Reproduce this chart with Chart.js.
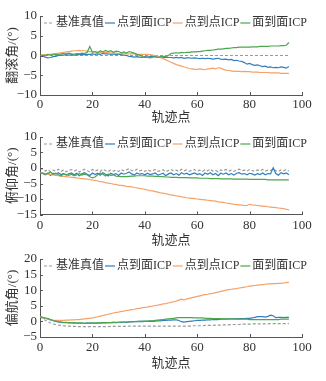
<!DOCTYPE html>
<html>
<head>
<meta charset="utf-8">
<script src="https://cdn.jsdelivr.net/npm/chart.js@4.4.0/dist/chart.umd.min.js"></script>
<style>
  html, body { margin: 0; padding: 0; background: #fff; }
  #wrap { position: relative; width: 326px; height: 381px; }
  .panel { position: absolute; left: 0; width: 326px; }
</style>
</head>
<body>
<div id="wrap">
  <div class="panel" style="top:0;height:125px"><canvas id="roll"></canvas></div>
  <div class="panel" style="top:121px;height:128px"><canvas id="pitch"></canvas></div>
  <div class="panel" style="top:243px;height:138px"><canvas id="yaw"></canvas></div>
</div>
<script>
'use strict'

// trajectory points 0..95
let points = [];
for (let i = 0; i < 96; i++) points.push(i);

let seriesNames = ['基准真值', '点到面ICP', '点到点ICP', '面到面ICP'];
let xTitle = '轨迹点';
let xTicks = [0, 20, 40, 60, 80, 100];

// roll
let rollTicks = [-10, -5, 0, 5, 10];
let rollTruth = [
  0,0,0,0,0,0,0,0,0,0, 0,0,0,0,0,0,0,0,0,0, 0,0,0,0,0,0,0,0,0,0,
  0,0,0,0,0,0,0,0,0,0, 0,0,0,0,0,0,0,0,0,0, 0,0,0,0,0,0,0,0,0,0,
  0,0,0,0,0,0,0,0,0,0, 0,0,0,0,0,0,0,0,0,0, 0,0,0,0,0,0,0,0,0,0,
  0,0,0,0,0,0];
let rollP2Plane = [
  0, -0.2, -0.4, -0.6, -0.5, -0.3, -0.2, 0, 0.1, 0.1,
  0.2, 0.1, 0.2, 0.1, 0.2, 0.2, 0.3, 0.2, 0.3, 0.3,
  0.4, 0.3, 0.4, 0.3, 0.5, 0.4, 0.4, 0.3, 0.4, 0.3,
  0.3, 0.2, 0.1, 0, -0.2, -0.3, -0.4, -0.3, -0.4, -0.5,
  -0.3, -0.4, -0.3, -0.2, -0.3, -0.4, -0.3, -0.5, -0.4, -0.5,
  -0.5, -0.6, -0.5, -0.6, -0.5, -0.7, -0.6, -0.6, -0.7, -0.6,
  -0.7, -0.8, -0.7, -0.8, -0.7, -0.8, -0.9, -0.8, -0.7, -0.9,
  -1.0, -0.9, -1.1, -1.0, -1.3, -1.2, -1.4, -1.5, -1.8, -2.2,
  -2.0, -2.3, -2.5, -2.4, -2.6, -2.8, -2.7, -3.0, -2.9, -3.1,
  -3.0, -3.1, -2.9, -3.0, -3.2, -2.8];
let rollP2Point = [
  0, 0.1, 0.2, 0.3, 0.3, 0.4, 0.5, 0.6, 0.7, 0.8,
  0.9, 1.0, 1.1, 1.2, 1.2, 1.3, 1.2, 1.2, 1.1, 1.0,
  1.0, 0.9, 0.9, 0.8, 0.8, 0.8, 0.7, 0.7, 0.6, 0.6,
  0.5, 0.5, 0.5, 0.4, 0.4, 0.4, 0.4, 0.3, 0.3, 0.3,
  0.3, 0.3, 0.2, 0.1, 0, -0.2, -0.5, -0.8, -1.1, -1.4,
  -1.7, -2.0, -2.3, -2.5, -2.7, -2.9, -3.1, -3.3, -3.4, -3.5,
  -3.5, -3.4, -3.5, -3.6, -3.4, -3.3, -3.2, -3.4, -3.1, -3.2,
  -3.5, -3.7, -3.8, -3.9, -4.0, -4.0, -4.0, -4.1, -4.0, -4.1,
  -4.1, -4.2, -4.2, -4.2, -4.3, -4.3, -4.3, -4.3, -4.4, -4.4,
  -4.4, -4.4, -4.5, -4.5, -4.5, -4.5];
let rollPlane2Plane = [
  0, 0.1, 0, 0.2, 0.1, 0.2, 0.3, 0.2, 0.4, 0.5,
  0.4, 0.6, 0.4, 0.3, 0.5, 0.4, 0.6, 0.5, 0.8, 2.3,
  0.8, 1.0, 0.6, 1.2, 0.9, 1.3, 1.0, 1.2, 0.8, 1.1,
  1.0, 0.7, 0.9, 0.6, 1.0, 0.8, 0.6, 0.3, 0.1, -0.2,
  -0.5, -0.4, -0.6, -0.4, -0.3, -0.5, -0.4, -0.2, -0.3, 0,
  0.5, 0.6, 0.7, 0.6, 0.8, 0.7, 0.8, 0.8, 0.9, 0.9,
  1.0, 1.0, 1.1, 1.2, 1.3, 1.3, 1.4, 1.5, 1.6, 1.6,
  1.7, 1.8, 1.8, 1.9, 2.0, 2.0, 2.1, 2.1, 2.1, 2.1,
  2.1, 2.2, 2.2, 2.2, 2.3, 2.3, 2.3, 2.3, 2.4, 2.4,
  2.4, 2.4, 2.5, 2.5, 2.6, 3.3];

// pitch
let pitchTicks = [-15, -10, -5, 0, 5, 10];
let pitchTruth = [
  0, -0.5, -1.0, -0.5, -1.2, -0.7, -1.0, -0.4, -1.1, -0.6,
  -1.2, -0.8, -0.5, -1.0, -0.6, -1.3, -0.8, -0.4, -0.9, -1.2,
  -0.5, -1.0, -0.6, -1.1, -0.4, -0.9, -1.2, -0.6, -1.0, -0.7,
  -1.1, -0.5, -0.9, -0.6, -0.2, -0.8, -1.0, -0.4, -0.9, -0.7,
  -1.1, -0.6, -1.0, -0.8, -0.5, -1.1, -0.9, -0.6, -1.2, -0.8,
  -0.5, -1.0, -0.7, -1.1, -0.4, -0.9, -0.6, -1.0, -0.8, -0.5,
  -1.0, -0.7, -1.1, -0.5, -0.9, -0.4, -1.0, -0.8, -1.2, -0.6,
  -0.9, -0.5, -1.0, -0.7, -1.1, -0.6, -0.4, -0.9, -0.7, -1.0,
  -0.5, -0.8, -1.1, -0.6, -0.9, -0.5, -1.0, -0.7, -0.8, -0.3,
  -0.9, -1.1, -0.6, -0.9, -0.5, -1.0];
let pitchP2Plane = [
  -1.5, -1.8, -2.2, -1.6, -2.4, -1.7, -2.0, -1.5, -2.1, -1.8,
  -2.3, -1.9, -1.6, -2.2, -1.7, -2.5, -1.9, -1.5, -2.0, -2.4,
  -1.6, -2.1, -1.7, -2.3, -1.5, -2.0, -2.6, -1.7, -2.1, -1.8,
  -2.4, -1.6, -2.0, -1.7, -1.3, -1.9, -2.3, -1.6, -2.0, -1.8,
  -2.2, -1.7, -2.1, -1.9, -1.6, -2.3, -2.0, -1.7, -2.5, -1.9,
  -1.6, -2.2, -1.8, -2.3, -1.5, -2.0, -1.7, -2.2, -1.9, -1.6,
  -2.1, -1.8, -2.4, -1.6, -2.0, -1.5, -2.2, -1.8, -2.5, -1.7,
  -2.0, -1.6, -2.2, -1.8, -2.3, -1.7, -1.5, -2.0, -1.8, -2.2,
  -1.7, -1.9, -2.3, -1.8, -2.1, -1.6, -2.2, -1.8, -1.9, 0.1,
  -1.8, -2.3, -1.5, -1.9, -1.6, -2.2];
let pitchP2Point = [
  -1.5, -1.6, -1.8, -2.0, -2.1, -2.2, -2.4, -2.5, -2.6, -2.7,
  -2.8, -2.9, -3.0, -3.1, -3.2, -3.3, -3.4, -3.5, -3.6, -3.7,
  -3.9, -4.0, -4.2, -4.4, -4.5, -4.7, -4.9, -5.0, -5.2, -5.3,
  -5.5, -5.6, -5.7, -5.9, -6.0, -6.1, -6.3, -6.4, -6.6, -6.7,
  -6.9, -7.1, -7.3, -7.4, -7.6, -7.8, -8.0, -8.1, -8.3, -8.5,
  -8.7, -8.8, -9.0, -9.1, -9.3, -9.4, -9.6, -9.7, -9.8, -9.9,
  -10.0, -10.1, -10.2, -10.3, -10.4, -10.5, -10.6, -10.7, -10.9, -11.0,
  -11.1, -11.3, -11.4, -11.6, -11.7, -11.8, -11.9, -12.0, -12.1, -12.1,
  -11.7, -11.9, -12.0, -12.1, -12.2, -12.3, -12.4, -12.5, -12.6, -12.7,
  -12.8, -12.9, -13.0, -13.1, -13.3, -13.5];
let pitchPlane2Plane = [
  -1.5, -1.7, -2.0, -1.8, -1.3, -2.0, -1.7, -2.2, -2.6, -1.9,
  -2.1, -2.4, -2.0, -2.5, -2.2, -1.8, -2.3, -2.0, -2.2, -2.8,
  -3.2, -2.9, -2.2, -1.6, -2.0, -2.6, -1.9, -2.4, -2.2, -2.6,
  -2.7, -2.8, -2.8, -2.8, -2.7, -2.6, -2.6, -2.5, -2.5, -2.5,
  -2.5, -2.6, -2.6, -2.6, -2.7, -2.7, -2.8, -2.8, -2.9, -2.9,
  -3.0, -3.0, -3.0, -3.1, -3.1, -3.1, -3.1, -3.2, -3.2, -3.2,
  -3.2, -3.3, -3.3, -3.3, -3.3, -3.4, -3.4, -3.4, -3.4, -3.5,
  -3.5, -3.5, -3.5, -3.5, -3.6, -3.6, -3.6, -3.6, -3.6, -3.6,
  -3.7, -3.7, -3.7, -3.7, -3.7, -3.7, -3.7, -3.8, -3.8, -3.8,
  -3.8, -3.8, -3.8, -3.8, -3.8, -3.8];

// yaw
let yawTicks = [-5, 0, 5, 10, 15, 20];
let yawTruth = [
  1.5, 1.0, 0.4, -0.1, -0.5, -0.8, -1.0, -1.2, -1.3, -1.4,
  -1.5, -1.5, -1.6, -1.6, -1.6, -1.7, -1.7, -1.7, -1.7, -1.7,
  -1.7, -1.7, -1.7, -1.7, -1.7, -1.7, -1.7, -1.6, -1.6, -1.6,
  -1.6, -1.6, -1.6, -1.6, -1.5, -1.5, -1.5, -1.5, -1.5, -1.5,
  -1.5, -1.5, -1.5, -1.5, -1.5, -1.5, -1.5, -1.5, -1.5, -1.5,
  -1.5, -1.5, -1.5, -1.5, -1.5, -1.5, -1.5, -1.5, -1.5, -1.4,
  -1.4, -1.4, -1.4, -1.3, -1.3, -1.3, -1.3, -1.2, -1.2, -1.2,
  -1.1, -1.1, -1.1, -1.0, -1.0, -1.0, -1.0, -0.9, -0.9, -0.9,
  -0.9, -0.8, -0.8, -0.8, -0.8, -0.8, -0.8, -0.8, -0.7, -0.7,
  -0.7, -0.7, -0.7, -0.7, -0.7, -0.7];
let yawP2Plane = [
  1.5, 1.2, 1.0, 0.8, 0.5, 0.2, 0.0, -0.2, -0.3, -0.4,
  -0.4, -0.5, -0.5, -0.5, -0.6, -0.6, -0.6, -0.6, -0.5, -0.6,
  -0.6, -0.6, -0.6, -0.5, -0.5, -0.5, -0.4, -0.4, -0.3, -0.4,
  -0.3, -0.3, -0.2, -0.3, -0.2, -0.2, -0.1, -0.1, 0.0, -0.1,
  0.0, 0.0, 0.1, 0.0, 0.1, 0.2, 0.2, 0.3, 0.3, 0.4,
  0.4, 0.5, 0.5, 0.3, -0.1, -0.2, -0.1, 0.0, 0.1, 0.2,
  0.3, 0.3, 0.4, 0.4, 0.5, 0.5, 0.6, 0.6, 0.6, 0.7,
  0.7, 0.7, 0.8, 0.8, 0.8, 0.8, 0.9, 0.9, 0.9, 1.0,
  1.0, 1.1, 1.3, 1.5, 1.5, 1.5, 1.4, 1.6, 2.0, 1.8,
  1.2, 1.3, 1.3, 1.2, 1.3, 1.3];
let yawP2Point = [
  1.5, 1.3, 1.0, 0.8, 0.6, 0.4, 0.3, 0.3, 0.3, 0.3,
  0.4, 0.4, 0.5, 0.5, 0.6, 0.6, 0.7, 0.8, 0.9, 1.0,
  1.1, 1.3, 1.5, 1.7, 1.9, 2.1, 2.3, 2.5, 2.7, 2.9,
  3.0, 3.2, 3.3, 3.5, 3.6, 3.8, 3.9, 4.1, 4.2, 4.4,
  4.5, 4.6, 4.8, 4.9, 5.1, 5.2, 5.4, 5.6, 5.7, 5.9,
  6.1, 6.3, 6.5, 6.8, 7.1, 6.8, 7.2, 7.4, 7.6, 7.8,
  8.0, 8.2, 8.4, 8.6, 8.7, 8.9, 9.0, 9.2, 9.4, 9.6,
  9.8, 10.0, 10.2, 10.3, 10.4, 10.5, 10.7, 10.8, 11.0, 11.1,
  11.3, 11.4, 11.5, 11.6, 11.7, 11.8, 11.9, 12.0, 12.0, 12.1,
  12.1, 12.2, 12.2, 12.3, 12.4, 12.5];
let yawPlane2Plane = [
  1.5, 1.3, 1.1, 0.9, 0.6, 0.3, 0.1, -0.1, -0.2, -0.3,
  -0.3, -0.4, -0.4, -0.5, -0.5, -0.5, -0.5, -0.6, -0.6, -0.5,
  -0.5, -0.5, -0.5, -0.5, -0.4, -0.4, -0.4, -0.4, -0.3, -0.3,
  -0.3, -0.2, -0.2, -0.2, -0.1, -0.1, -0.1, 0.0, 0.0, 0.1,
  0.1, 0.1, 0.2, 0.2, 0.3, 0.4, 0.5, 0.6, 0.7, 0.8,
  0.9, 1.0, 1.1, 1.2, 1.2, 1.2, 1.2, 1.2, 1.2, 1.1,
  1.1, 1.1, 1.1, 1.0, 1.0, 1.0, 0.9, 0.9, 0.9, 0.9,
  0.8, 0.8, 0.8, 0.8, 0.8, 0.7, 0.7, 0.7, 0.7, 0.7,
  0.6, 0.6, 0.6, 0.6, 0.6, 0.6, 0.6, 0.6, 0.6, 0.6,
  0.6, 0.6, 0.7, 0.7, 0.7, 0.7];

let colors = ['#9a9a9a', '#2f7fc1', '#f4a269', '#4ca64c'];
let FAMILY = "'Liberation Serif', 'Noto Sans CJK SC', serif";
let TXT = '#333';
let AXIS = '#555';

function fmt(v) {
    return v < 0 ? '\u2212' + Math.abs(v) : String(v);
}

function toXY(arr) {
    let out = [];
    for (let i = 0; i < arr.length; i++) {
        out.push({x: points[i], y: arr[i]});
    }
    return out;
}

// legend drawn inside the plot, one row, tight spacing
let lineLegend = {
    id: 'lineLegend',
    afterDraw(chart) {
        let ctx = chart.ctx;
        let area = chart.chartArea;
        let x = area.left + 4;
        let y = area.top + 7;
        ctx.save();
        ctx.font = '12px ' + FAMILY;
        ctx.textBaseline = 'middle';
        chart.data.datasets.forEach(ds => {
            ctx.strokeStyle = ds.borderColor;
            ctx.lineWidth = 1.2;
            ctx.setLineDash(ds.borderDash || []);
            ctx.beginPath();
            ctx.moveTo(x, y);
            ctx.lineTo(x + 10, y);
            ctx.stroke();
            ctx.setLineDash([]);
            x += 12;
            ctx.fillStyle = TXT;
            ctx.fillText(ds.label, x, y);
            x += ctx.measureText(ds.label).width + 1;
        });
        ctx.restore();
    }
};

// short tick marks pointing into the plot
let innerTicks = {
    id: 'innerTicks',
    afterDraw(chart) {
        let ctx = chart.ctx;
        let a = chart.chartArea;
        let xs = chart.scales.x;
        let ys = chart.scales.y;
        ctx.save();
        ctx.strokeStyle = AXIS;
        ctx.lineWidth = 1;
        ctx.beginPath();
        xs.ticks.forEach(t => {
            let px = Math.round(xs.getPixelForValue(t.value)) + 0.5;
            ctx.moveTo(px, a.bottom);
            ctx.lineTo(px, a.bottom - 3);
        });
        ys.ticks.forEach(t => {
            let py = Math.round(ys.getPixelForValue(t.value)) + 0.5;
            ctx.moveTo(a.left, py);
            ctx.lineTo(a.left + 3, py);
        });
        ctx.stroke();
        ctx.restore();
    }
};

function makePanel(id, yTitle, yTicks, series, box) {
    let datasets = [];
    for (let i = 0; i < series.length; i++) {
        datasets.push({
            label: seriesNames[i],
            data: toXY(series[i]),
            borderColor: colors[i],
            borderWidth: 1.2,
            borderDash: i === 0 ? [3, 2] : [],
            pointRadius: 0,
            tension: 0,
            fill: false,
            order: series.length - i
        });
    }
    let font = {family: FAMILY, size: 13};
    return new Chart(document.getElementById(id), {
        type: 'line',
        data: {datasets: datasets},
        plugins: [lineLegend, innerTicks],
        options: {
            responsive: true,
            maintainAspectRatio: false,
            animation: false,
            layout: {padding: {left: 0, right: 24, top: 16, bottom: 0}},
            plugins: {legend: {display: false}, tooltip: {enabled: false}},
            scales: {
                x: {
                    type: 'linear',
                    min: xTicks[0],
                    max: xTicks[xTicks.length - 1],
                    afterBuildTicks: s => { s.ticks = xTicks.map(v => ({value: v})); },
                    ticks: {color: TXT, font: font, padding: box.xPad, maxRotation: 0, autoSkip: false, callback: fmt},
                    grid: {display: false, drawTicks: false},
                    border: {color: AXIS, width: 1},
                    title: {display: true, text: xTitle, color: TXT, font: font, padding: {top: 0, bottom: box.titleBottom}},
                    afterFit: s => { s.height = box.xHeight; }
                },
                y: {
                    min: yTicks[0],
                    max: yTicks[yTicks.length - 1],
                    afterBuildTicks: s => { s.ticks = yTicks.map(v => ({value: v})); },
                    ticks: {color: TXT, font: font, padding: 3, autoSkip: false, callback: fmt},
                    grid: {display: false, drawTicks: false},
                    border: {color: AXIS, width: 1},
                    title: {display: true, text: yTitle, color: TXT, font: font, padding: {top: 5, bottom: 0}},
                    afterFit: s => { s.width = 40; }
                }
            }
        }
    });
}

makePanel('roll', '翻滚角/(°)', rollTicks,
    [rollTruth, rollP2Plane, rollP2Point, rollPlane2Plane],
    {xHeight: 30, titleBottom: 0, xPad: 2});
makePanel('pitch', '俯仰角/(°)', pitchTicks,
    [pitchTruth, pitchP2Plane, pitchP2Point, pitchPlane2Plane],
    {xHeight: 34.5, titleBottom: 1, xPad: 3});
makePanel('yaw', '偏航角/(°)', yawTicks,
    [yawTruth, yawP2Plane, yawP2Point, yawPlane2Plane],
    {xHeight: 44, titleBottom: 10, xPad: 3});
</script>
</body>
</html>
